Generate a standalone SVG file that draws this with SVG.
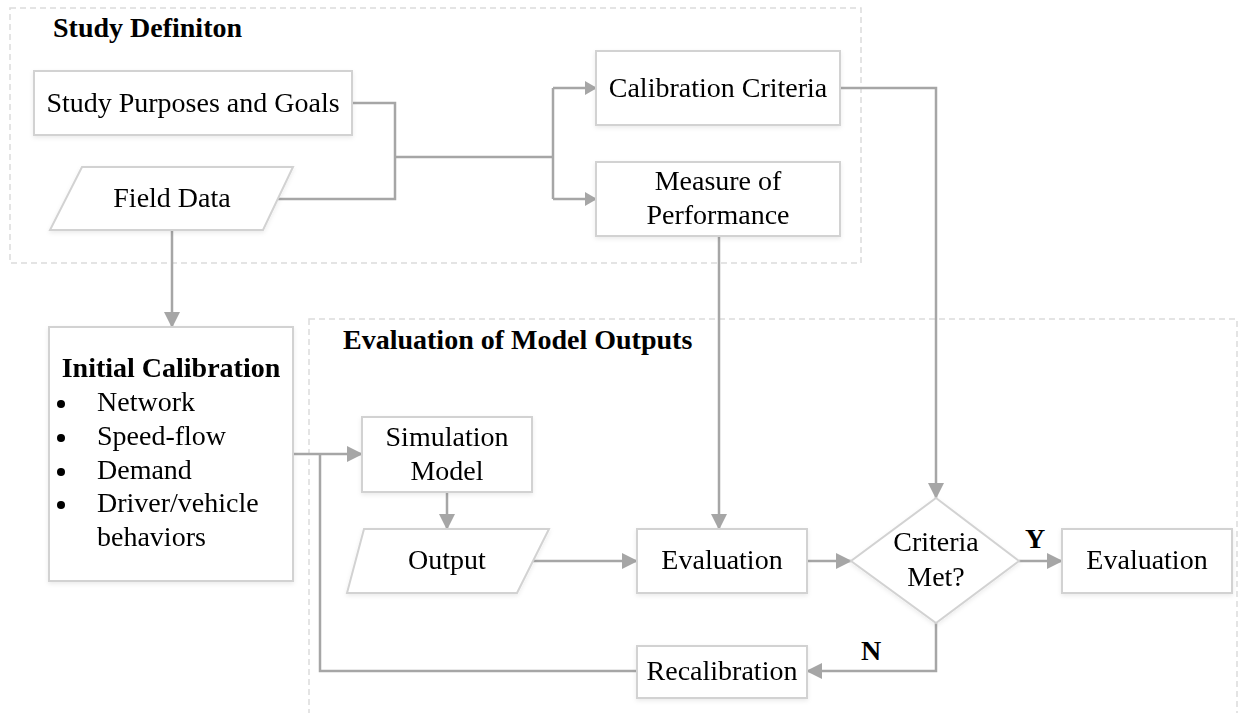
<svg xmlns="http://www.w3.org/2000/svg" width="1239" height="713" viewBox="0 0 1239 713">
<defs>
<style>
.t{font-family:"Liberation Serif","Times New Roman",serif;font-size:28px;fill:#000}
.b{font-weight:bold}
.c{text-anchor:middle}
.box{fill:#fff;stroke:#d2d2d2;stroke-width:2}
.grp{fill:none;stroke:#dcdcdc;stroke-width:1.5;stroke-dasharray:6 4}
.ln{fill:none;stroke:#a6a6a6;stroke-width:2.5}
.ar{marker-end:url(#ah)}
.as{marker-end:url(#as)}
</style>
<marker id="ah" markerUnits="userSpaceOnUse" markerWidth="16" markerHeight="16" refX="15" refY="8" orient="auto">
<path d="M0,0 L16,8 L0,16 z" fill="#a6a6a6"/>
</marker>
<marker id="as" markerUnits="userSpaceOnUse" markerWidth="12" markerHeight="14" refX="11" refY="7" orient="auto">
<path d="M0,0 L12,7 L0,14 z" fill="#a6a6a6"/>
</marker>
<filter id="sh" x="-10%" y="-10%" width="120%" height="130%">
<feDropShadow dx="0" dy="2" stdDeviation="2" flood-color="#000" flood-opacity="0.08"/>
</filter>
</defs>
<rect width="1239" height="713" fill="#fff"/>

<g id="group-study-definition">
<rect class="grp" x="10" y="8" width="851" height="255"/>
<text class="t b" x="53" y="37">Study Definiton</text>
</g>
<g id="group-evaluation">
<rect class="grp" x="309" y="319" width="928" height="400"/>
<text class="t b" x="343" y="349">Evaluation of Model Outputs</text>
</g>

<g id="connectors">
<path class="ln" d="M352,103 H395 V199 H278"/>
<path class="ln" d="M395,157 H553"/>
<path class="ln" d="M553,88 V199"/>
<path class="ln as" d="M553,88 H596"/>
<path class="ln as" d="M553,199 H596"/>
<path class="ln ar" d="M172,230 V327"/>
<path class="ln ar" d="M840,88 H936 V498"/>
<path class="ln ar" d="M719,236 V529"/>
<path class="ln ar" d="M293,454 H362"/>
<path class="ln ar" d="M447,492 V529"/>
<path class="ln ar" d="M532,561 H637"/>
<path class="ln ar" d="M807,561 H851"/>
<path class="ln ar" d="M1019,561 H1062"/>
<path class="ln ar" d="M936,623 V671 H807"/>
<path class="ln" d="M637,671 H320 V454"/>
<text class="t b" x="1025" y="548">Y</text>
<text class="t b" x="861" y="660">N</text>
</g>

<g id="node-study-purposes" filter="url(#sh)">
<rect class="box" x="34" y="71" width="318" height="64"/>
<text class="t c" x="193" y="112">Study Purposes and Goals</text>
</g>
<g id="node-field-data" filter="url(#sh)">
<polygon class="box" points="82,167 293,167 263,230 50,230"/>
<text class="t c" x="172" y="207">Field Data</text>
</g>
<g id="node-calibration-criteria" filter="url(#sh)">
<rect class="box" x="596" y="51" width="244" height="74"/>
<text class="t c" x="718" y="97">Calibration Criteria</text>
</g>
<g id="node-measure-performance" filter="url(#sh)">
<rect class="box" x="596" y="162" width="244" height="74"/>
<text class="t c" x="718" y="190">Measure of</text>
<text class="t c" x="718" y="224">Performance</text>
</g>
<g id="node-initial-calibration" filter="url(#sh)">
<rect class="box" x="49" y="327" width="244" height="254"/>
<text class="t b c" x="171" y="377">Initial Calibration</text>
<circle cx="61" cy="404" r="4" fill="#000"/>
<circle cx="61" cy="438" r="4" fill="#000"/>
<circle cx="61" cy="472" r="4" fill="#000"/>
<circle cx="61" cy="505" r="4" fill="#000"/>
<text class="t" x="97" y="411">Network</text>
<text class="t" x="97" y="445">Speed-flow</text>
<text class="t" x="97" y="479">Demand</text>
<text class="t" x="97" y="512">Driver/vehicle</text>
<text class="t" x="97" y="546">behaviors</text>
</g>
<g id="node-simulation-model" filter="url(#sh)">
<rect class="box" x="362" y="417" width="170" height="75"/>
<text class="t c" x="447" y="446">Simulation</text>
<text class="t c" x="447" y="480">Model</text>
</g>
<g id="node-output" filter="url(#sh)">
<polygon class="box" points="364,529 549,529 517,593 347,593"/>
<text class="t c" x="447" y="569">Output</text>
</g>
<g id="node-evaluation" filter="url(#sh)">
<rect class="box" x="637" y="529" width="170" height="64"/>
<text class="t c" x="722" y="569">Evaluation</text>
</g>
<g id="node-criteria-met" filter="url(#sh)">
<polygon class="box" points="936,498 1019,561 936,623 851,561"/>
<text class="t c" x="936" y="551">Criteria</text>
<text class="t c" x="936" y="586">Met?</text>
</g>
<g id="node-evaluation-final" filter="url(#sh)">
<rect class="box" x="1062" y="529" width="170" height="64"/>
<text class="t c" x="1147" y="569">Evaluation</text>
</g>
<g id="node-recalibration" filter="url(#sh)">
<rect class="box" x="637" y="646" width="170" height="52"/>
<text class="t c" x="722" y="680">Recalibration</text>
</g>
</svg>
